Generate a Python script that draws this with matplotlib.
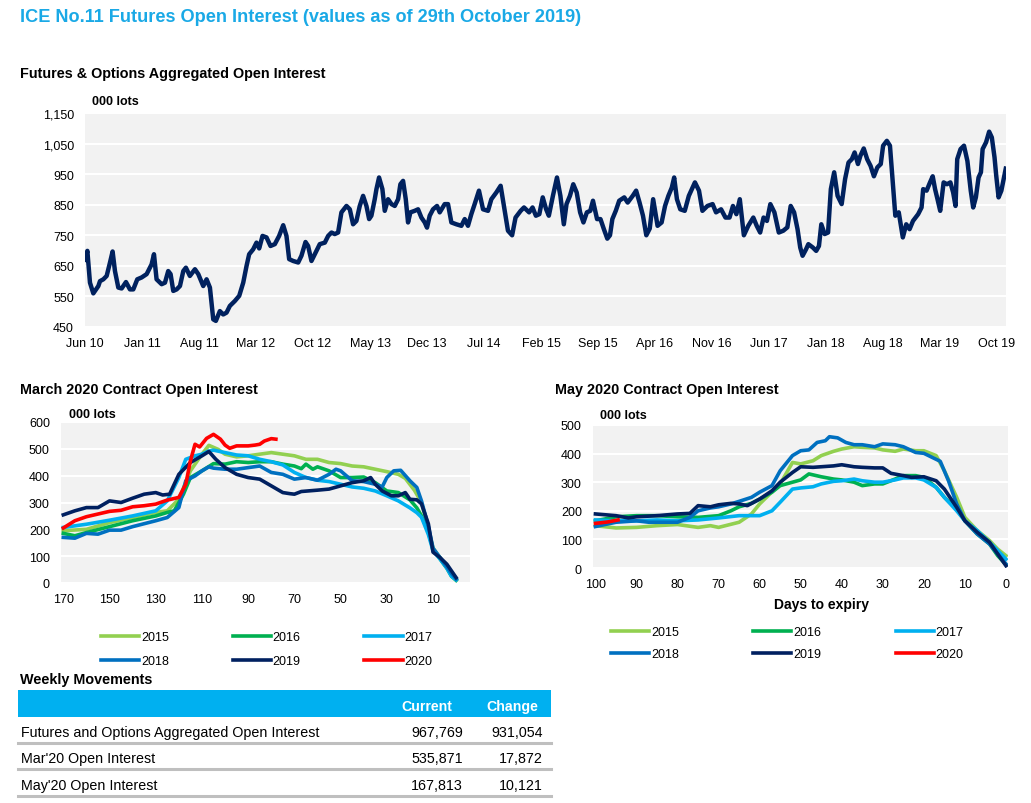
import matplotlib
matplotlib.use('Agg')
import matplotlib.pyplot as plt
from matplotlib.patches import Rectangle
from matplotlib.lines import Line2D
from matplotlib.ticker import FuncFormatter


######## ######## ######## ########
# DATA

# Aggregated open interest (000 lots), x = months since Jun 2010
oi_months = [0.0, 0.29, 0.61, 1.02, 1.64, 1.84, 2.25, 2.66, 3.07, 3.39, 3.68, 4.09, 4.50, 5.03,
	5.52, 5.93, 6.42, 6.95, 7.57, 8.18, 8.47, 8.79, 9.41, 9.82, 10.22, 10.51, 10.84, 11.25,
	11.66, 12.07, 12.39, 12.88, 13.50, 13.91, 14.52, 14.93, 15.34, 15.75, 16.07, 16.56, 16.97,
	17.38, 17.79, 18.40, 18.94, 19.43, 19.84, 20.16, 20.65, 21.06, 21.39, 21.80, 22.29, 22.78,
	23.31, 23.84, 24.34, 24.74, 25.07, 25.56, 26.18, 26.58, 27.08, 27.40, 27.81, 28.22, 28.83,
	29.45, 29.86, 30.27, 30.67, 31.08, 31.49, 32.11, 32.52, 32.92, 33.33, 33.74, 34.15, 34.56,
	34.89, 35.17, 35.58, 35.79, 36.11, 36.52, 36.81, 37.22, 37.63, 38.04, 38.45, 38.73, 39.06,
	39.39, 39.67, 39.96, 40.49, 40.90, 41.31, 41.72, 42.00, 42.33, 42.74, 43.23, 43.56, 44.17,
	44.58, 44.99, 45.60, 46.22, 46.63, 47.03, 47.44, 47.85, 48.38, 48.88, 49.49, 49.90, 50.51,
	51.04, 51.41, 51.94, 52.45, 52.87, 53.50, 53.91, 54.54, 54.96, 55.37, 55.79, 56.21, 56.63,
	56.96, 57.46, 57.96, 58.38, 58.80, 59.13, 59.55, 59.96, 60.38, 60.80, 61.21, 61.63, 62.05,
	62.38, 62.88, 63.30, 63.72, 64.14, 64.47, 64.76, 65.18, 65.60, 66.22, 66.64, 67.26, 67.68,
	68.10, 68.52, 68.93, 69.35, 69.77, 70.31, 70.81, 71.23, 71.64, 72.06, 72.35, 72.69, 73.10,
	73.65, 74.15, 74.90, 75.40, 75.82, 76.44, 77.07, 77.49, 78.11, 78.65, 79.15, 79.57, 79.99,
	80.41, 80.91, 81.45, 82.07, 82.49, 82.91, 83.33, 83.74, 84.16, 84.66, 85.20, 85.75, 86.25,
	86.66, 87.08, 87.50, 87.83, 88.12, 88.54, 88.83, 89.38, 89.79, 90.13, 90.42, 90.83, 91.25,
	91.59, 92.00, 92.42, 92.92, 93.34, 93.76, 94.17, 94.51, 94.92, 95.22, 95.63, 96.05, 96.47,
	96.88, 97.30, 97.72, 98.01, 98.47, 98.85, 99.18, 99.51, 99.93, 100.43, 100.85, 101.26,
	101.68, 102.31, 102.73, 102.93, 103.35, 103.77, 104.10, 104.39, 104.69, 105.02, 105.44,
	105.85, 106.27, 106.61, 106.90, 107.11, 107.52, 107.94, 108.36, 108.77, 109.07, 109.40,
	109.73, 110.02, 110.23, 110.65, 111.03, 111.36, 111.69, 111.90, 112.19, 112.53, 112.86, 113.07]
oi_values = [670, 699, 595, 560, 584, 600, 606, 617, 661, 697, 633, 579, 576, 597,
	573, 573, 606, 612, 623, 655, 688, 606, 590, 595, 633, 623, 568, 573,
	584, 633, 644, 617, 639, 623, 584, 606, 579, 475, 470, 502, 491,
	497, 519, 535, 552, 595, 650, 688, 704, 726, 707, 748, 743, 715,
	721, 748, 783, 748, 672, 666, 661, 683, 728, 715, 666, 688, 721,
	726, 748, 759, 754, 759, 825, 846, 835, 786, 797, 846, 879, 846,
	803, 814, 868, 901, 939, 901, 830, 868, 852, 846, 868, 917, 928,
	868, 792, 825, 830, 835, 808, 792, 775, 814, 835, 846, 825, 852,
	852, 792, 786, 781, 803, 781, 819, 852, 896, 835, 830, 868, 890,
	912, 852, 765, 750, 808, 830, 841, 825, 841, 814, 819, 874, 835,
	814, 879, 939, 879, 786, 852, 879, 917, 890, 825, 792, 825, 830,
	863, 803, 803, 770, 739, 750, 803, 830, 863, 874, 857, 879, 896,
	857, 814, 750, 772, 868, 781, 792, 846, 879, 906, 939, 868, 835,
	830, 879, 923, 896, 830, 846, 852, 825, 835, 808, 808, 846, 819,
	868, 750, 781, 808, 781, 759, 808, 797, 852, 825, 759, 765, 776,
	846, 825, 770, 710, 683, 704, 721, 710, 699, 715, 786, 754, 759,
	901, 956, 879, 852, 934, 988, 999, 1021, 983, 1010, 1034, 999, 977,
	943, 972, 983, 1043, 1059, 1043, 928, 814, 825, 743, 786, 770,
	797, 819, 841, 901, 896, 923, 943, 901, 868, 830, 923,
	917, 923, 890, 846, 999, 1032, 1043, 993, 896, 841, 874,
	939, 956, 1032, 1054, 1089, 1070, 1005, 945, 874, 896, 939, 968]
oi_tick_labels = ['Jun 10', 'Jan 11', 'Aug 11', 'Mar 12', 'Oct 12', 'May 13', 'Dec 13', 'Jul 14',
	'Feb 15', 'Sep 15', 'Apr 16', 'Nov 16', 'Jun 17', 'Jan 18', 'Aug 18', 'Mar 19', 'Oct 19']

# March contract open interest (000 lots) by days to expiry
mar_days_2015 = [170, 160, 150, 140, 130, 125, 120, 115, 110, 107, 103, 100, 95, 90, 85, 80, 75, 70, 65,
	60, 55, 50, 45, 40, 35, 30, 25, 22, 18, 15, 12, 10, 7, 4, 2, 0]
mar_oi_2015 = [195, 200, 225, 244, 263, 269, 312, 418, 480, 513, 498, 480, 470, 474, 480, 486, 480, 474, 461,
	461, 449, 445, 436, 433, 424, 415, 405, 390, 345, 300, 200, 130, 95, 60, 30, 12]
mar_days_2016 = [170, 165, 160, 150, 140, 130, 125, 122, 118, 115, 110, 105, 100, 95, 90, 85, 80, 75, 70,
	67, 65, 62, 60, 55, 50, 45, 40, 35, 30, 25, 20, 17, 15, 12, 10, 7, 4, 2, 0]
mar_oi_2016 = [185, 176, 188, 210, 232, 250, 263, 269, 331, 393, 418, 445, 443, 452, 449, 452, 452, 443, 436,
	426, 443, 424, 433, 418, 393, 393, 395, 374, 343, 337, 310, 280, 250, 190, 125, 90, 55, 25, 10]
mar_days_2017 = [170, 160, 150, 140, 130, 125, 120, 117, 113, 110, 107, 105, 100, 95, 90, 85, 80, 75, 70,
	65, 60, 55, 50, 45, 40, 35, 30, 25, 20, 17, 15, 12, 10, 7, 4, 2, 0]
mar_oi_2017 = [207, 219, 234, 250, 269, 306, 393, 461, 474, 480, 492, 495, 486, 477, 474, 461, 452, 440, 412,
	393, 383, 378, 368, 358, 353, 343, 325, 306, 280, 262, 245, 180, 120, 90, 55, 25, 12]
mar_days_2018 = [170, 165, 160, 155, 150, 145, 140, 130, 125, 120, 117, 113, 110, 107, 105, 100, 95, 90, 85,
	80, 75, 70, 65, 60, 55, 52, 50, 45, 40, 35, 32, 30, 27, 24, 20, 17, 15, 12, 10, 7, 4, 2, 0]
mar_oi_2018 = [170, 167, 185, 182, 197, 197, 210, 232, 244, 281, 381, 399, 418, 433, 428, 424, 424, 430, 436,
	412, 405, 387, 393, 383, 405, 424, 418, 381, 378, 368, 358, 393, 418, 420, 381, 356, 306, 210, 130, 95, 60, 35, 15]
mar_days_2019 = [170, 165, 160, 155, 150, 145, 140, 135, 130, 127, 124, 120, 115, 110, 107, 104, 100, 95, 90,
	85, 80, 75, 72, 70, 67, 60, 55, 50, 45, 40, 37, 35, 32, 28, 25, 22, 20, 17, 15, 12, 10, 7, 4, 2, 0]
mar_oi_2019 = [254, 269, 281, 281, 306, 300, 316, 331, 337, 328, 331, 405, 449, 474, 490, 461, 430, 405, 393,
	387, 362, 337, 333, 331, 341, 346, 350, 362, 374, 381, 393, 368, 343, 325, 325, 337, 312, 310, 295, 220, 115, 95, 70, 45, 20]
mar_days_2020 = [170, 165, 160, 155, 150, 145, 140, 135, 130, 125, 120, 117, 115, 113, 111, 108, 105, 102, 100,
	98, 95, 90, 87, 85, 83, 80, 78]
mar_oi_2020 = [205, 232, 247, 257, 267, 271, 284, 288, 294, 309, 319, 368, 455, 517, 507, 539, 554, 536, 514,
	502, 511, 511, 514, 517, 529, 538, 536]

# May contract open interest (000 lots) by days to expiry
may_days_2015 = [100, 95, 90, 85, 80, 75, 72, 70, 65, 62, 60, 55, 52, 50, 47, 45, 42, 40, 37, 35, 32, 30,
	27, 25, 22, 20, 17, 15, 12, 10, 7, 4, 2, 0]
may_oi_2015 = [148, 140, 142, 148, 152, 142, 148, 142, 160, 189, 224, 294, 369, 364, 375, 393, 408, 416, 424, 422, 420, 413,
	408, 416, 410, 410, 393, 340, 247, 177, 131, 96, 66, 43]
may_days_2016 = [100, 95, 90, 85, 80, 75, 70, 67, 65, 62, 60, 57, 55, 52, 50, 48, 45, 42, 40, 37, 35, 32, 30,
	27, 25, 22, 20, 17, 15, 12, 10, 7, 4, 2, 0]
may_oi_2016 = [165, 179, 183, 183, 179, 177, 183, 200, 214, 226, 241, 265, 288, 300, 308, 329, 319, 311, 308, 300, 288, 294, 294,
	311, 323, 323, 317, 282, 247, 206, 165, 119, 84, 43, 12]
may_days_2017 = [100, 95, 90, 85, 80, 75, 70, 65, 60, 57, 55, 52, 50, 47, 45, 42, 40, 37, 35, 32, 30,
	27, 25, 22, 20, 17, 15, 12, 10, 7, 4, 2, 0]
may_oi_2017 = [168, 165, 165, 168, 165, 168, 175, 183, 183, 200, 230, 276, 280, 284, 294, 303, 305, 311, 305, 300, 300,
	308, 315, 315, 308, 282, 247, 200, 165, 131, 90, 61, 31]
may_days_2018 = [100, 95, 90, 87, 85, 80, 77, 75, 72, 70, 67, 65, 62, 60, 57, 55, 52, 50, 48, 46, 44, 43, 41,
	39, 37, 35, 32, 30, 27, 25, 22, 20, 18, 16, 14, 12, 10, 7, 4, 2, 0]
may_oi_2018 = [145, 160, 165, 160, 160, 160, 177, 200, 210, 214, 224, 233, 247, 265, 288, 340, 393, 410, 413, 439, 445, 459, 455,
	439, 431, 431, 424, 434, 431, 424, 404, 401, 387, 373, 305, 224, 165, 119, 84, 49, 14]
may_days_2019 = [100, 95, 92, 90, 85, 80, 77, 75, 72, 70, 67, 65, 63, 60, 57, 55, 52, 50, 47, 45, 42, 40, 37,
	35, 32, 30, 28, 25, 23, 20, 17, 15, 12, 10, 7, 4, 2, 0]
may_oi_2019 = [189, 183, 175, 179, 183, 189, 191, 218, 214, 221, 226, 224, 218, 241, 270, 300, 334, 354, 352, 354, 357, 361, 354,
	352, 350, 350, 331, 323, 317, 319, 305, 276, 212, 165, 125, 90, 49, 8]
may_days_2020 = [100, 97, 94.5]
may_oi_2020 = [156, 161, 168]

years = ['2015', '2016', '2017', '2018', '2019', '2020']
year_colors = ['#92d050', '#00b050', '#00b0f0', '#0070c0', '#002060', '#ff0000']

# Weekly movements table
tbl_rows = ['Futures and Options Aggregated Open Interest', "Mar'20 Open Interest", "May'20 Open Interest"]
tbl_current = ['967,769', '535,871', '167,813']
tbl_change = ['931,054', '17,872', '10,121']


######## ######## ######## ########
# LAYOUT HELPERS (pixel boxes on a 1031x804 canvas)

W, H = 1031, 804

plt.rcParams['font.family'] = ['Liberation Sans', 'DejaVu Sans']

fig = plt.figure(figsize=(W / 100, H / 100), dpi=100)


def pxAxes(x0, y0, x1, y1) :
	ax = fig.add_axes([x0 / W, 1 - y1 / H, (x1 - x0) / W, (y1 - y0) / H])
	ax.set_facecolor('#f2f2f2')
	for sp in ax.spines.values() :
		sp.set_visible(False)
	ax.grid(axis='y', color='white', linewidth=1.5)
	ax.set_axisbelow(True)
	ax.tick_params(length=0, labelsize=9)
	return ax
#end def


def pxText(x, y, s, **kw) :
	fig.text(x / W, 1 - y / H, s, **kw)
#end def


def rowLegend(ax, x, y, colsp, rowsp) :
	# legend fills by column, so reorder to read 2015-2017 on top, 2018-2020 below
	h, l = ax.get_legend_handles_labels()
	order = [0, 3, 1, 4, 2, 5]
	ax.legend([h[i] for i in order], [l[i] for i in order], loc='upper left',
		bbox_to_anchor=(x / W, 1 - y / H), bbox_transform=fig.transFigure,
		ncol=3, frameon=False, fontsize=9, handlelength=3.05, handletextpad=0.15,
		columnspacing=colsp, labelspacing=rowsp, borderpad=0, borderaxespad=0)
#end def


######## ######## ######## ########
# TITLES

pxText(20, 18, 'ICE No.11 Futures Open Interest (values as of 29th October 2019)',
	fontsize=13.1, fontweight='bold', color='#1aa9e6', va='center', ha='left')
pxText(20, 74, 'Futures & Options Aggregated Open Interest', fontsize=10.4, fontweight='bold', va='center')
pxText(20, 390, 'March 2020 Contract Open Interest', fontsize=10.4, fontweight='bold', va='center')
pxText(555, 390, 'May 2020 Contract Open Interest', fontsize=10.4, fontweight='bold', va='center')
pxText(20, 680, 'Weekly Movements', fontsize=10.4, fontweight='bold', va='center')


######## ######## ######## ########
# TOP CHART

ax = pxAxes(85, 114, 1006, 328)
ax.plot(oi_months, oi_values, color='#00215e', linewidth=3.2, solid_joinstyle='round')
ax.set_xlim(0, 113.1)
ax.set_ylim(450, 1150)
ax.set_yticks(range(450, 1151, 100))
ax.yaxis.set_major_formatter(FuncFormatter(lambda v, p : '{:,.0f}'.format(v)))
ax.set_xticks(range(0, 7 * len(oi_tick_labels), 7))
ax.set_xticklabels(oi_tick_labels)
ax.tick_params(axis='y', pad=8)
ax.tick_params(axis='x', pad=7)
pxText(92, 102, '000 lots', fontsize=9, fontweight='bold', va='center')


######## ######## ######## ########
# MARCH CHART

mar_days = [mar_days_2015, mar_days_2016, mar_days_2017, mar_days_2018, mar_days_2019, mar_days_2020]
mar_oi = [mar_oi_2015, mar_oi_2016, mar_oi_2017, mar_oi_2018, mar_oi_2019, mar_oi_2020]

ax = pxAxes(61, 423, 470, 584)
for i in range(len(years)) :
	ax.plot(mar_days[i], mar_oi[i], color=year_colors[i], linewidth=2.6, label=years[i])
ax.set_xlim(171, -6)
ax.set_ylim(0, 600)
ax.set_yticks(range(0, 601, 100))
ax.set_xticks(range(170, 0, -20))
ax.tick_params(axis='y', pad=8)
ax.tick_params(axis='x', pad=7)
pxText(69, 415, '000 lots', fontsize=9, fontweight='bold', va='center')
rowLegend(ax, 101, 632, 5.1, 0.95)


######## ######## ######## ########
# MAY CHART

may_days = [may_days_2015, may_days_2016, may_days_2017, may_days_2018, may_days_2019, may_days_2020]
may_oi = [may_oi_2015, may_oi_2016, may_oi_2017, may_oi_2018, may_oi_2019, may_oi_2020]

ax = pxAxes(593, 426, 1008, 569)
for i in range(len(years)) :
	ax.plot(may_days[i], may_oi[i], color=year_colors[i], linewidth=2.6, label=years[i])
ax.set_xlim(100.6, -0.5)
ax.set_ylim(0, 500)
ax.set_yticks(range(0, 501, 100))
ax.set_xticks(range(100, -1, -10))
ax.tick_params(axis='y', pad=8)
ax.tick_params(axis='x', pad=7)
pxText(600, 416, '000 lots', fontsize=9, fontweight='bold', va='center')
pxText(822, 605, 'Days to expiry', fontsize=10, fontweight='bold', va='center', ha='center')
rowLegend(ax, 611, 627, 5.95, 0.8)


######## ######## ######## ########
# WEEKLY MOVEMENTS TABLE

fig.add_artist(Rectangle((17.7 / W, 1 - 717.7 / H), (550.7 - 17.7) / W, 26.7 / H,
	transform=fig.transFigure, facecolor='#00b0f0', edgecolor='none'))
pxText(452, 707, 'Current', fontsize=10.2, fontweight='bold', color='white', ha='right', va='center')
pxText(538, 707, 'Change', fontsize=10.2, fontweight='bold', color='white', ha='right', va='center')

rowY = [733, 759.5, 786]
lineY = [744, 770, 797]
for i in range(len(tbl_rows)) :
	pxText(21, rowY[i], tbl_rows[i], fontsize=10.3, va='center')
	pxText(463, rowY[i], tbl_current[i], fontsize=10.3, va='center', ha='right')
	pxText(543, rowY[i], tbl_change[i], fontsize=10.3, va='center', ha='right')
	fig.add_artist(Line2D([17.7 / W, 550.7 / W], [1 - lineY[i] / H, 1 - lineY[i] / H],
		transform=fig.transFigure, color='#bfbfbf', linewidth=2.2))
#end for

fig.savefig('out.png', dpi=100)
